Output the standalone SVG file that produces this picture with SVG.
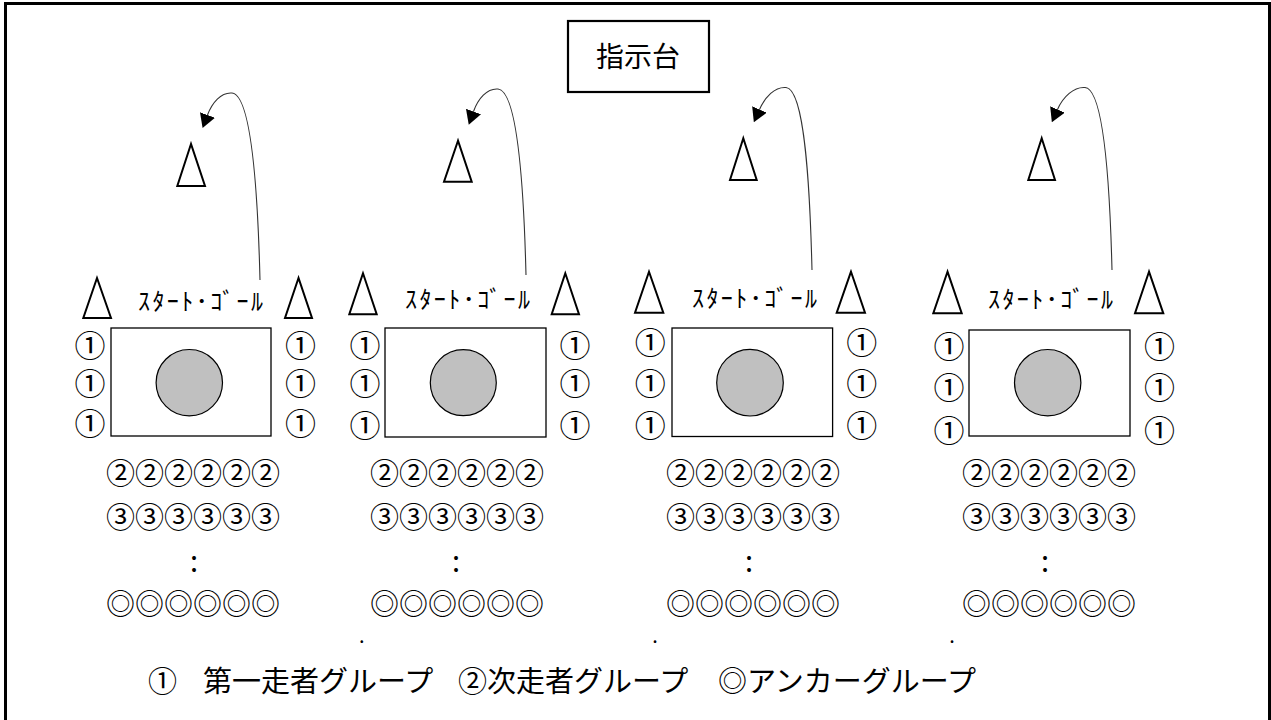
<svg xmlns="http://www.w3.org/2000/svg" width="1271" height="720" viewBox="0 0 1271 720">
<style>
  .jp { font-family: "Noto Sans CJK JP", "Liberation Sans", sans-serif; fill: #000; }
  .cone { fill: #fff; stroke: #000; stroke-width: 2; stroke-linejoin: miter; }
  .field { fill: #fff; stroke: #000; stroke-width: 1.3; }
  .ball { fill: #c0c0c0; stroke: #000; stroke-width: 1.2; }
  .one { font-size: 31px; text-anchor: middle; }
  .row { font-size: 29px; }
  .sg { font-size: 24px; }
  .conn { fill: none; stroke: #333; stroke-width: 1.1; }
</style>
<defs>
  <marker id="ah" markerUnits="userSpaceOnUse" viewBox="0 0 14 16" refX="0" refY="8" markerWidth="14" markerHeight="16" orient="auto">
    <path d="M0,0 L14,8 L0,16 z" fill="#000"/>
  </marker>
</defs>
<rect x="5.5" y="3.5" width="1264" height="722" fill="#fff" stroke="#000" stroke-width="3"/>

<g id="podium">
  <rect x="568" y="21" width="141" height="71" fill="#fff" stroke="#000" stroke-width="2.2"/>
  <text class="jp" x="638" y="67" font-size="28" text-anchor="middle">指示台</text>
</g>

<g id="connectors">
  <path class="conn" d="M260,280 C258,200 252,95 232,93 C221,92 212,103 207.5,115" marker-end="url(#ah)"/>
  <path class="conn" d="M526,275 C524,195 518,91 498,89 C487,88 478,99 473.5,111.5" marker-end="url(#ah)"/>
  <path class="conn" d="M812,270 C810,190 805,89 786,87.5 C775,86.5 765,97 759.5,109.5" marker-end="url(#ah)"/>
  <path class="conn" d="M1112,270 C1110,190 1104,89 1085,87.5 C1074,86.5 1063,97 1057.5,109.5" marker-end="url(#ah)"/>
</g>

<g id="cone-top-1"><polygon class="cone" points="191,144 177.3,186 205,186"/></g>
<g id="cone-top-2"><polygon class="cone" points="458,140.7 444,181.7 471.7,181.7"/></g>
<g id="cone-top-3"><polygon class="cone" points="743.3,138.3 730,180 756.7,180"/></g>
<g id="cone-top-4"><polygon class="cone" points="1041.7,138.3 1028.3,180 1055,180"/></g>

<g id="lane-1">
  <polygon class="cone" points="97,278 83.3,318 111,318"/>
  <polygon class="cone" points="298.5,278 285,318 312,318"/>
  <text class="jp sg" x="138" y="310" textLength="125" lengthAdjust="spacing">ｽﾀｰﾄ･ｺﾞｰﾙ</text>
  <rect class="field" x="111" y="328" width="160" height="108"/>
  <circle class="ball" cx="189.3" cy="382.7" r="33.2"/>
  <text class="jp one" x="90" y="356.8">①</text>
  <text class="jp one" x="90" y="395.1">①</text>
  <text class="jp one" x="90" y="435.1">①</text>
  <text class="jp one" x="300.5" y="356.8">①</text>
  <text class="jp one" x="300.5" y="395.1">①</text>
  <text class="jp one" x="300.5" y="435.1">①</text>
  <text class="jp row" x="106" y="484">②②②②②②</text>
  <text class="jp row" x="106" y="528">③③③③③③</text>
  <text class="jp row" x="194" y="572" text-anchor="middle">:</text>
  <text class="jp row" x="106" y="614.5">◎◎◎◎◎◎</text>
  <text class="jp" x="361.7" y="643" font-size="20" text-anchor="middle">.</text>
</g>

<g id="lane-2">
  <polygon class="cone" points="363,273.3 349.3,314.3 376.7,314.3"/>
  <polygon class="cone" points="565.3,273.3 551.7,314.3 579,314.3"/>
  <text class="jp sg" x="405" y="308" textLength="125" lengthAdjust="spacing">ｽﾀｰﾄ･ｺﾞｰﾙ</text>
  <rect class="field" x="385" y="328" width="161" height="109"/>
  <circle class="ball" cx="463.3" cy="382.7" r="33"/>
  <text class="jp one" x="365" y="356.8">①</text>
  <text class="jp one" x="365" y="394.8">①</text>
  <text class="jp one" x="365" y="436.8">①</text>
  <text class="jp one" x="575" y="356.8">①</text>
  <text class="jp one" x="575" y="394.8">①</text>
  <text class="jp one" x="575" y="436.8">①</text>
  <text class="jp row" x="370" y="484">②②②②②②</text>
  <text class="jp row" x="370" y="528">③③③③③③</text>
  <text class="jp row" x="456" y="572" text-anchor="middle">:</text>
  <text class="jp row" x="370" y="614.5">◎◎◎◎◎◎</text>
  <text class="jp" x="655" y="643" font-size="20" text-anchor="middle">.</text>
</g>

<g id="lane-3">
  <polygon class="cone" points="649,271.7 635,312.7 663.3,312.7"/>
  <polygon class="cone" points="851,271.7 836.7,312.7 865,312.7"/>
  <text class="jp sg" x="692" y="307" textLength="125" lengthAdjust="spacing">ｽﾀｰﾄ･ｺﾞｰﾙ</text>
  <rect class="field" x="672" y="328" width="160.6" height="108.5"/>
  <circle class="ball" cx="750" cy="382.7" r="33.3"/>
  <text class="jp one" x="650.3" y="353.5">①</text>
  <text class="jp one" x="650.3" y="395.1">①</text>
  <text class="jp one" x="650.3" y="436.8">①</text>
  <text class="jp one" x="861.7" y="353.5">①</text>
  <text class="jp one" x="861.7" y="395.1">①</text>
  <text class="jp one" x="861.7" y="436.8">①</text>
  <text class="jp row" x="666" y="484">②②②②②②</text>
  <text class="jp row" x="666" y="528">③③③③③③</text>
  <text class="jp row" x="749" y="572" text-anchor="middle">:</text>
  <text class="jp row" x="666" y="614.5">◎◎◎◎◎◎</text>
  <text class="jp" x="952" y="643" font-size="20" text-anchor="middle">.</text>
</g>

<g id="lane-4">
  <polygon class="cone" points="947.5,271.7 933.3,313.3 961.7,313.3"/>
  <polygon class="cone" points="1149,271.7 1135,313.3 1163.3,313.3"/>
  <text class="jp sg" x="988" y="308" textLength="125" lengthAdjust="spacing">ｽﾀｰﾄ･ｺﾞｰﾙ</text>
  <rect class="field" x="969" y="330" width="161" height="106"/>
  <circle class="ball" cx="1047.7" cy="382.7" r="33.2"/>
  <text class="jp one" x="949" y="357.8">①</text>
  <text class="jp one" x="949" y="399.1">①</text>
  <text class="jp one" x="949" y="441.8">①</text>
  <text class="jp one" x="1159.5" y="357.8">①</text>
  <text class="jp one" x="1159.5" y="399.1">①</text>
  <text class="jp one" x="1159.5" y="441.8">①</text>
  <text class="jp row" x="962" y="484">②②②②②②</text>
  <text class="jp row" x="962" y="528">③③③③③③</text>
  <text class="jp row" x="1045" y="572" text-anchor="middle">:</text>
  <text class="jp row" x="962" y="614.5">◎◎◎◎◎◎</text>
</g>

<g id="legend">
  <text class="jp" font-size="29" y="692"><tspan x="148">①</tspan><tspan x="203">第一走者グループ</tspan><tspan x="458">②次走者グループ</tspan><tspan x="718">◎アンカーグループ</tspan></text>
</g>
</svg>
